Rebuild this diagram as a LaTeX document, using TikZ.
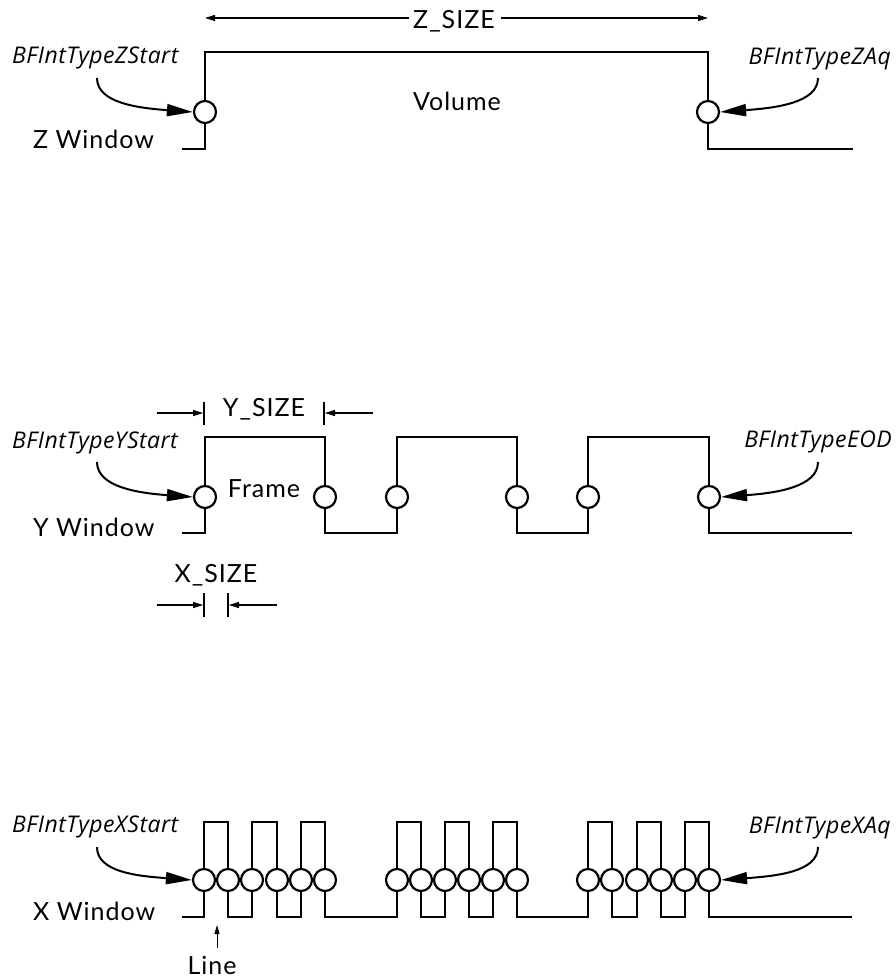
\documentclass[tikz,border=0pt]{standalone}
\usepackage{fontspec}
\setmainfont{Lato}[LetterSpace=4]
\newfontfamily\itlabelfont{Open Sans}[LetterSpace=2]
\usetikzlibrary{arrows.meta}
\begin{document}
\begin{tikzpicture}[x=1pt,y=-1pt,
  wave/.style={line width=2.2pt, line join=miter, line cap=butt},
  evt/.style={circle, draw, line width=2.2pt, fill=white, minimum size=22pt, inner sep=0pt},
  lbl/.style={font=\fontsize{25}{28}\selectfont, inner sep=0pt, anchor=base},
  ilbl/.style={font=\fontsize{23}{26}\selectfont\itlabelfont\itshape, inner sep=0pt},
  callout/.style={line width=2pt, -{Triangle[length=26pt,width=12pt]}},
  dimarrow/.style={line width=1.1pt, -{Triangle[length=10pt,width=6pt]}},
  tick/.style={line width=1.1pt}]
\useasboundingbox (0,0) rectangle (895,980);

% ---------- Z window ----------
\draw[wave] (182,149) -- (205,149) -- (205,52) -- (708,52) -- (708,149) -- (853,149);
\node[evt] (z1) at (205,112) {};
\node[evt] (z2) at (708,112) {};
\node[lbl] (zsize) at (454,28) {Z\_SIZE};
\coordinate (zl) at (205,18);
\coordinate (zr) at (708,18);
\draw[dimarrow] (zsize.west |- zl) ++(-4,0) -- (zl);
\draw[dimarrow] (zsize.east |- zr) ++(6,0) -- (zr);
\node[lbl] (vol) at (457,110) {Volume};
\node[lbl, anchor=base west] (zwin) at (33,148) {Z Window};
\node[ilbl, anchor=base west] (zstart) at (12,63) {BFIntTypeZStart};
\node[ilbl, anchor=base east] (zaq) at (891,64) {BFIntTypeZAq};
\coordinate (zsa) at (97,78);
\coordinate (zaa) at (818,78);
\draw[callout] (zsa) .. controls +(0,25) and +(-55,-4) .. (z1.west);
\draw[callout] (zaa) .. controls +(0,25) and +(55,-4) .. (z2.east);

% ---------- Y window ----------
\draw[wave] (182,533) -- (205,533) -- (205,437) -- (325,437) -- (325,533) -- (397,533) -- (397,437) -- (517,437) -- (517,533) -- (588,533) -- (588,437) -- (709,437) -- (709,533) -- (852,533);
\foreach \n/\x in {1/205,2/325,3/397,4/517,5/588,6/709}
  \node[evt] (y\n) at (\x,497) {};
\node[lbl] (ysize) at (264,416) {Y\_SIZE};
\coordinate (yt1a) at (204,402); \coordinate (yt1b) at (204,425);
\coordinate (yt2a) at (324,402); \coordinate (yt2b) at (324,425);
\draw[tick] (yt1a) -- (yt1b);
\draw[tick] (yt2a) -- (yt2b);
\coordinate (ya0) at (157,413); \coordinate (ya1) at (203,413);
\coordinate (yb0) at (373,413); \coordinate (yb1) at (325,413);
\draw[dimarrow] (ya0) -- (ya1);
\draw[dimarrow] (yb0) -- (yb1);
\node[lbl] (frame) at (264,497) {Frame};
\node[lbl, anchor=base west] (ywin) at (33,536) {Y Window};
\node[ilbl, anchor=base west] (ystart) at (12,448) {BFIntTypeYStart};
\node[ilbl, anchor=base east] (eod) at (892,447) {BFIntTypeEOD};
\coordinate (ysa) at (97,462);
\coordinate (yea) at (818,462);
\draw[callout] (ysa) .. controls +(0,25) and +(-55,-4) .. (y1.west);
\draw[callout] (yea) .. controls +(0,25) and +(55,-4) .. (y6.east);

% X_SIZE
\node[lbl] (xsize) at (216,582) {X\_SIZE};
\coordinate (xt1a) at (204,593); \coordinate (xt1b) at (204,617);
\coordinate (xt2a) at (228,593); \coordinate (xt2b) at (228,617);
\draw[tick] (xt1a) -- (xt1b);
\draw[tick] (xt2a) -- (xt2b);
\coordinate (xa0) at (157,605); \coordinate (xa1) at (203,605);
\coordinate (xb0) at (277,605); \coordinate (xb1) at (229,605);
\draw[dimarrow] (xa0) -- (xa1);
\draw[dimarrow] (xb0) -- (xb1);

% ---------- X window ----------
\draw[wave] (182,917) -- (204,917)
  -- (204,822) -- (228,822) -- (228,917) -- (252,917) -- (252,822) -- (277,822) -- (277,917) -- (301,917) -- (301,822) -- (325,822) -- (325,917)
  -- (397,917)
  -- (397,822) -- (421,822) -- (421,917) -- (445,917) -- (445,822) -- (469,822) -- (469,917) -- (493,917) -- (493,822) -- (517,822) -- (517,917)
  -- (588,917)
  -- (588,822) -- (612,822) -- (612,917) -- (637,917) -- (637,822) -- (661,822) -- (661,917) -- (685,917) -- (685,822) -- (709,822) -- (709,917)
  -- (852,917);
\foreach \n/\x in {1/204,2/228,3/252,4/277,5/301,6/325,7/397,8/421,9/445,10/469,11/493,12/517,13/588,14/612,15/637,16/661,17/685,18/709}
  \node[evt] (x\n) at (\x,880) {};
\node[lbl, anchor=base west] (xwin) at (33,920) {X Window};
\node[ilbl, anchor=base west] (xstart) at (12,832) {BFIntTypeXStart};
\node[ilbl, anchor=base east] (xaq) at (891,833) {BFIntTypeXAq};
\coordinate (xsa) at (97,847);
\coordinate (xaa) at (818,847);
\draw[callout] (xsa) .. controls +(0,25) and +(-55,-4) .. (x1.west);
\draw[callout] (xaa) .. controls +(0,25) and +(55,-4) .. (x18.east);
\node[lbl] (line) at (212,974) {Line};
\coordinate (lt) at (217,925);
\coordinate (lb) at (217,948);
\draw[line width=1pt, -{Triangle[length=9pt,width=5pt]}] (lb) -- (lt);
\end{tikzpicture}
\end{document}
